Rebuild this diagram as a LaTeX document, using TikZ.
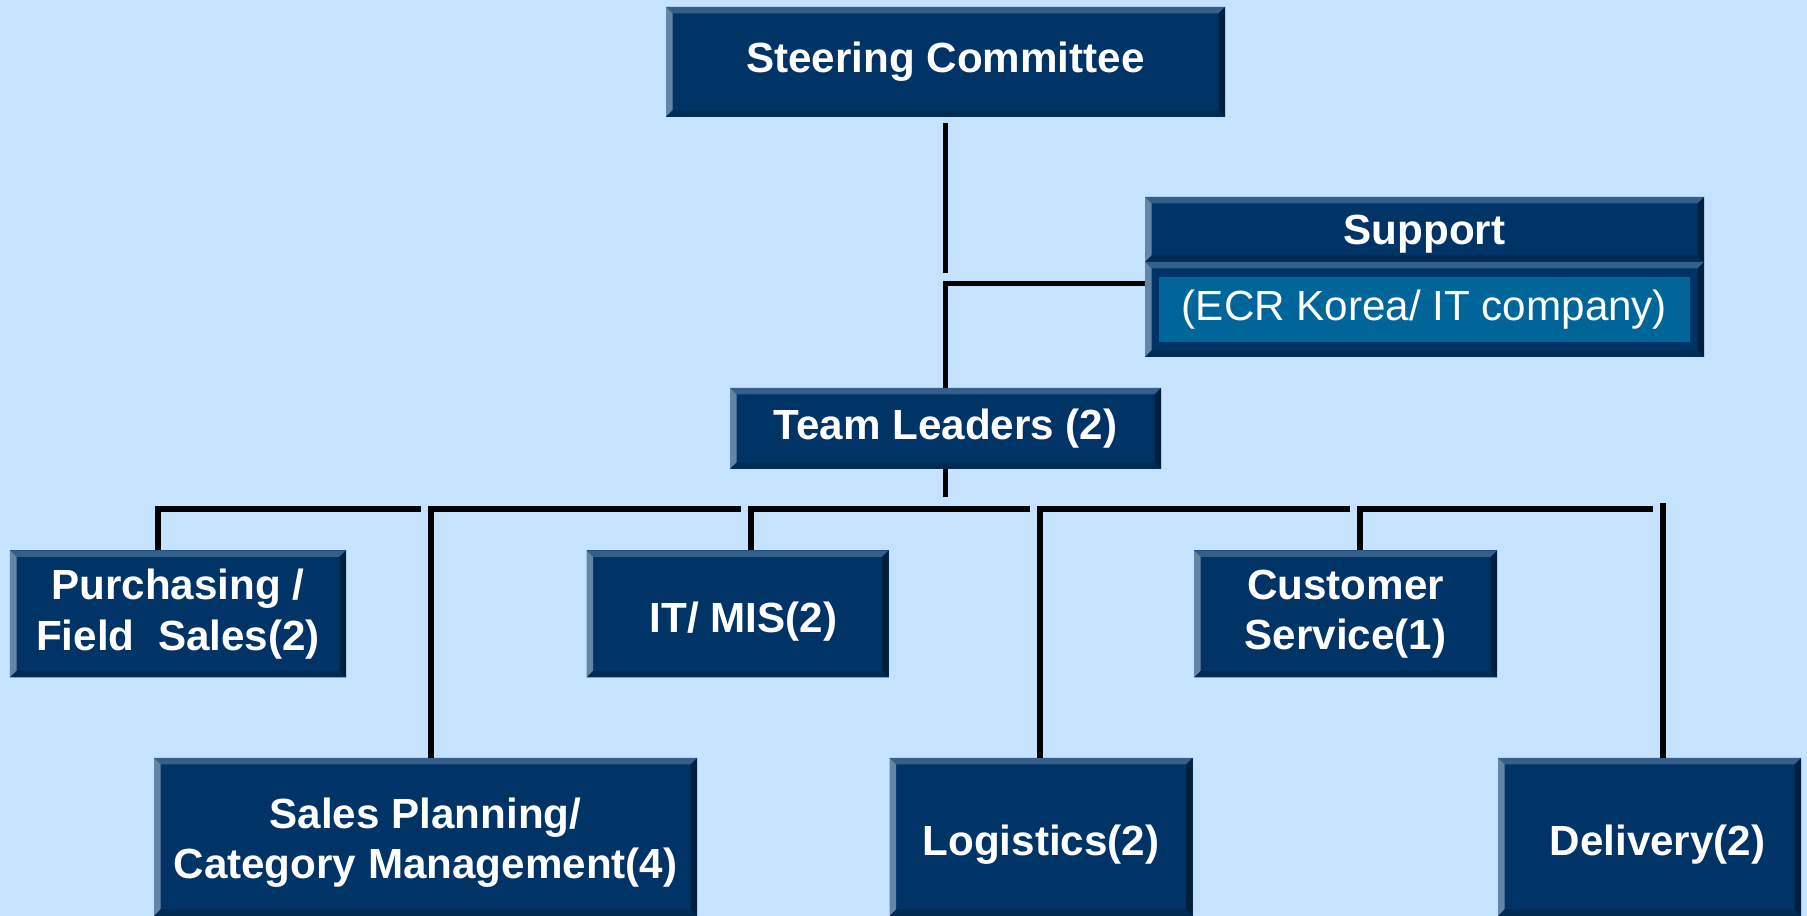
\documentclass[tikz,border=0pt]{standalone}
\usepackage{fontspec}
\setmainfont{Liberation Sans}
\usepackage{xcolor}
\usetikzlibrary{calc}

\definecolor{bgblue}{HTML}{C5E2FE}
\definecolor{boxface}{HTML}{003366}
\definecolor{bevtop}{HTML}{335F8A}
\definecolor{bevleft}{HTML}{6385A8}
\definecolor{bevbot}{HTML}{002A52}
\definecolor{bevright}{HTML}{001F3D}
\definecolor{supinner}{HTML}{006699}

\newcommand{\orgfont}{\fontsize{12}{14.4}\selectfont}
% taller first line pushes the text a little down in its box
\newcommand{\dropstrut}[1]{\rule{0pt}{#1}}
\def\bev{0.065cm}

\tikzset{
  orgbox/.style={fill=boxface, text=white, font=\orgfont\bfseries, align=center,
    inner sep=0pt, outer sep=0pt,
    path picture={
      \coordinate (nw) at (path picture bounding box.north west);
      \coordinate (ne) at (path picture bounding box.north east);
      \coordinate (sw) at (path picture bounding box.south west);
      \coordinate (se) at (path picture bounding box.south east);
      \fill[bevtop] (nw) -- (ne) -- ($(ne)+(-\bev,-\bev)$) -- ($(nw)+(\bev,-\bev)$) -- cycle;
      \fill[bevleft] (nw) -- (sw) -- ($(sw)+(\bev,\bev)$) -- ($(nw)+(\bev,-\bev)$) -- cycle;
      \fill[bevbot] (sw) -- (se) -- ($(se)+(-\bev,\bev)$) -- ($(sw)+(\bev,\bev)$) -- cycle;
      \fill[bevright] (ne) -- (se) -- ($(se)+(-\bev,\bev)$) -- ($(ne)+(-\bev,-\bev)$) -- cycle;
    }},
  notebox/.style={fill=supinner, text=white, font=\orgfont, inner sep=0pt, outer sep=0pt},
}

\begin{document}
\begin{tikzpicture}[line width=1.6pt]
    % --- Definitions ---
    \def\barY{-5.09}   % height of the branch bar

    % --- Background ---
    \fill[bgblue] (0,0) rectangle (18.07,-9.16);
    \useasboundingbox (0,0) rectangle (18.07,-9.16);

    % --- Top of the chart ---
    \node[orgbox, minimum width=5.59cm, minimum height=1.10cm] (steer) at (9.455,-0.62) {Steering Committee};
    \node[orgbox, minimum width=5.59cm, minimum height=0.65cm] (sup) at (14.245,-2.295) {\dropstrut{11.3pt}Support};
    \node[orgbox, minimum width=5.59cm, minimum height=0.95cm] (supbody) at (14.245,-3.095) {};
    \node[notebox, minimum width=5.31cm, minimum height=0.655cm] (supnote) at (supbody) {(ECR Korea/ IT company)};
    \node[orgbox, minimum width=4.31cm, minimum height=0.81cm] (lead) at (9.455,-4.285) {Team Leaders (2)};

    % --- Teams ---
    \node[orgbox, minimum width=3.36cm, minimum height=1.27cm] (purch) at (1.78,-6.14) {Purchasing /\\Field~~Sales(2)};
    \node[orgbox, minimum width=3.02cm, minimum height=1.27cm] (itmis) at (7.375,-6.14) {\hspace*{0.12cm}\dropstrut{13.2pt}IT/ MIS(2)};
    \node[orgbox, minimum width=3.03cm, minimum height=1.27cm] (cust) at (13.455,-6.14) {Customer\\Service(1)};
    \node[orgbox, minimum width=5.43cm, minimum height=1.58cm] (sales) at (4.255,-8.37) {\dropstrut{12pt}Sales Planning/\\Category Management(4)};
    \node[orgbox, minimum width=3.03cm, minimum height=1.58cm] (logis) at (10.41,-8.37) {\dropstrut{13.2pt}Logistics(2)};
    \node[orgbox, minimum width=3.03cm, minimum height=1.58cm] (deliv) at (16.495,-8.37) {\hspace*{0.16cm}\dropstrut{13.2pt}Delivery(2)};

    % --- Steering Committee, Support and Team Leaders ---
    \coordinate (hub) at (9.455,-2.835);
    \draw ([yshift=-0.06cm]steer.south) -- ($(hub)+(0,0.105)$);
    \draw (supbody.west |- hub) -| (lead.north);
    \draw (lead.south) -- ++(0,-0.28);

    % --- Branch bar ---
    % each team hooks up to the bar and runs right to just short of the next one
    \coordinate (bar) at (0,\barY);
    \coordinate (p1) at ([xshift=-0.20cm]purch.north);
    \coordinate (p2) at ([xshift=0.055cm]sales.north);
    \coordinate (p3) at ([xshift=0.135cm]itmis.north);
    \coordinate (p4) at ([xshift=-0.01cm]logis.north);
    \coordinate (p5) at ([xshift=0.145cm]cust.north);
    \coordinate (p6) at ([xshift=0.135cm]deliv.north);
    \foreach \a/\b in {p1/p2, p2/p3, p3/p4, p4/p5, p5/p6}
        \draw (\a) |- ($(\b |- bar)+(-0.10,0)$);
    \draw (p6) -- ($(p6 |- bar)+(0,0.06)$);

\end{tikzpicture}
\end{document}
